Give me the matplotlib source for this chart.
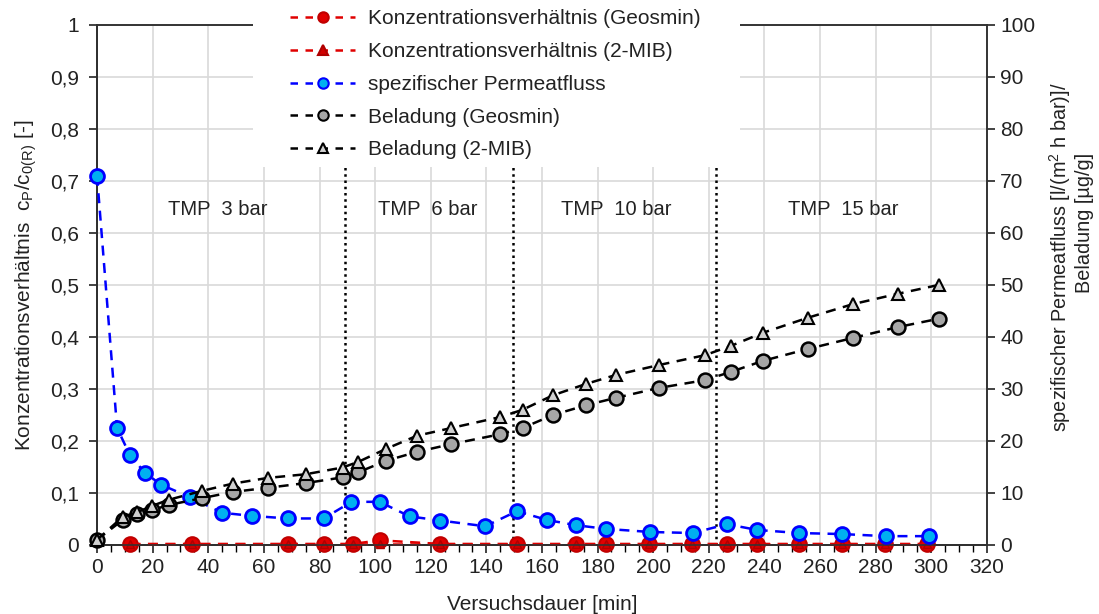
import matplotlib
matplotlib.use("Agg")
import matplotlib.pyplot as plt
from matplotlib.ticker import MultipleLocator, FuncFormatter
from matplotlib.lines import Line2D
from matplotlib.patches import Rectangle

plt.rcParams['font.family'] = ['Liberation Sans', 'DejaVu Sans']
plt.rcParams['font.size'] = 12

# Konzentrationsverhältnis (left axis)
conc_x = [12, 34, 68.6, 81.5, 92, 101.6, 123.5, 151, 172.3, 183, 198.5, 214, 226.5, 237.3, 252.3, 268, 283.2, 298.6]
conc_geosmin = [0.002, 0.002, 0.002, 0.002, 0.002, 0.009, 0.002, 0.002, 0.002, 0.002, 0.002, 0.002, 0.002, 0.002, 0.002, 0.002, 0.002, 0.002]
conc_mib = [0.001, 0.001, 0.001, 0.001, 0.001, 0.001, 0.001, 0.001, 0.001, 0.001, 0.001, 0.001, 0.001, 0.001, 0.001, 0.001, 0.001, 0.001]

# spezifischer Permeatfluss (right axis)
flux_x = [0, 7.2, 11.8, 17.2, 23, 33.4, 44.9, 55.6, 68.6, 81.5, 91.5, 101.6, 112.4, 123.5, 139.6,
          151, 161.9, 172.3, 183, 198.9, 214.3, 226.5, 237.3, 252.3, 268, 283.6, 299]
flux = [71, 22.5, 17.3, 13.9, 11.6, 9.2, 6.2, 5.6, 5.1, 5.1, 8.3, 8.3, 5.5, 4.7, 3.6,
        6.5, 4.8, 3.8, 3.1, 2.5, 2.3, 4.0, 2.9, 2.3, 2.1, 1.7, 1.7]

# Beladung (right axis)
load_x = [0, 9.2, 14.4, 19.7, 25.8, 37.7, 48.8, 61.4, 75, 88.3, 94, 104, 115, 127.4, 145, 153,
          164, 176, 186.6, 202, 218.6, 228, 239.4, 255.6, 271.7, 287.9, 302.6]
load_geosmin = [1, 4.8, 6, 6.7, 7.7, 9, 10.2, 11, 11.9, 13, 14, 16.2, 17.9, 19.4, 21.3, 22.5,
                25, 26.9, 28.3, 30.2, 31.7, 33.3, 35.4, 37.7, 39.8, 41.9, 43.5]
load_mib = [1, 5.4, 6.3, 7.5, 8.7, 10.4, 11.8, 12.9, 13.6, 14.9, 16, 18.5, 21, 22.5, 24.6, 26,
            28.8, 31, 32.7, 34.6, 36.5, 38.3, 40.8, 43.7, 46.3, 48.3, 50]

tmp_bounds = [89, 149.5, 222.5]
tmp_labels = ["TMP  3 bar", "TMP  6 bar", "TMP  10 bar", "TMP  15 bar"]
tmp_label_x = [43.5, 119, 186.6, 268.5]

W, H = 1099, 614
fig = plt.figure(figsize=(10.99, 6.14), dpi=100)
ax = fig.add_axes([0.0883, 0.1124, 0.8097, 0.8469])
ax2 = ax.twinx()

dash = (0, (4, 3))
lw = 1.8
ms = 10

red_face = '#E00000'
red_edge = '#C00000'
l0, = ax.plot(conc_x, conc_geosmin, linestyle=dash, color=red_face, lw=lw, marker='o', ms=ms + 0.5,
              mfc=red_face, mec=red_edge, mew=1.5, clip_on=False, zorder=3)
l1, = ax.plot(conc_x, conc_mib, linestyle=dash, color=red_face, lw=lw, marker='^', ms=6,
              mfc='#D00000', mec='#B00000', mew=1.0, clip_on=False, zorder=4)

l2, = ax2.plot(flux_x, flux, linestyle=dash, color='#0000FF', lw=lw, marker='o', ms=ms,
               mfc='#00B0F0', mec='#0000FF', mew=2, clip_on=False, zorder=3)
l3, = ax2.plot(load_x, load_geosmin, linestyle=dash, color='black', lw=lw, marker='o', ms=ms,
               mfc='#A6A6A6', mec='black', mew=1.8, clip_on=False, zorder=4)
l4, = ax2.plot(load_x, load_mib, linestyle=dash, color='black', lw=lw, marker='^', ms=ms - 1.5,
               mfc='#D0D0D0', mec='black', mew=1.5, clip_on=False, zorder=4)

for b in tmp_bounds:
    ax.plot([b, b], [0, 1], linestyle=(0, (1, 1.5)), color='black', lw=1.8, zorder=2)
for lx, lab in zip(tmp_label_x, tmp_labels):
    ax.text(lx, 0.646, lab, ha='center', va='center', fontsize=14.5, color='#222222')

ax.set_xlim(0, 320)
ax.set_ylim(0, 1)
ax2.set_ylim(0, 100)

comma = FuncFormatter(lambda v, p: ('%.1f' % v).replace('.', ',') if 0 < v < 1 else '%d' % round(v))
ax.xaxis.set_major_locator(MultipleLocator(20))
ax.xaxis.set_minor_locator(MultipleLocator(5))
ax.yaxis.set_major_locator(MultipleLocator(0.1))
ax.yaxis.set_major_formatter(comma)
ax2.yaxis.set_major_locator(MultipleLocator(10))

ax.grid(True, which='major', color='#D9D9D9', lw=1.2, zorder=0)
ax.set_axisbelow(True)

for a in (ax, ax2):
    for s in a.spines.values():
        s.set_color('#333333')
        s.set_linewidth(1.2)
ax.spines['bottom'].set_color('black')
ax.spines['left'].set_color('black')

ax.tick_params(axis='x', which='major', direction='out', length=6, width=1.2,
               labelsize=15, colors='#222222')
ax.tick_params(axis='y', which='major', direction='out', length=6, width=1.2, pad=7,
               labelsize=15, colors='#222222')
ax.tick_params(axis='x', which='minor', direction='out', length=5, width=1)
ax2.tick_params(axis='y', direction='out', length=6, width=1.2, labelsize=15, colors='#222222')

ax.set_xlabel("Versuchsdauer [min]", fontsize=15, labelpad=13, color='#222222')
ax.set_ylabel("Konzentrationsverhältnis  c$_\\mathregular{P}$/c$_\\mathregular{0(R)}$ [-]",
              fontsize=15, labelpad=8, color='#222222')

# right axis label (two lines, placed like the original)
fig.text(1060 / W, 1 - 257 / H, "spezifischer Permeatfluss [l/(m$^\\mathregular{2}$ h bar)]/",
         rotation=90, ha='center', va='center', fontsize=14.3, color='#222222')
fig.text(1085 / W, 1 - 223 / H, "Beladung [µg/g]",
         rotation=90, ha='center', va='center', fontsize=14.3, color='#222222')

# white legend background area (covers grid / top spine like the original)
fig.patches.append(Rectangle((253 / W, 1 - 167 / H), 487 / W, 167 / H,
                             transform=fig.transFigure, facecolor='white',
                             edgecolor='none', zorder=5))

handles = [l0, l1, l2, l3, l4]
labels = ["Konzentrationsverhältnis (Geosmin)", "Konzentrationsverhältnis (2-MIB)",
          "spezifischer Permeatfluss", "Beladung (Geosmin)", "Beladung (2-MIB)"]
leg_handles = []
for h in handles:
    leg_handles.append(Line2D([], [], linestyle=(0, (3, 3)), color=h.get_color(), lw=lw,
                              marker=h.get_marker(), ms=7.5, mfc=h.get_markerfacecolor(),
                              mec=h.get_markeredgecolor(), mew=1.5))
leg = fig.legend(leg_handles, labels, loc='upper left',
                 bbox_to_anchor=(280 / W, 1 + 1 / H), bbox_transform=fig.transFigure,
                 frameon=False, fontsize=15, handlelength=3.1, labelspacing=0.66,
                 borderpad=0.0, handletextpad=0.62)
leg.set_zorder(6)
for t in leg.get_texts():
    t.set_color('#222222')

fig.savefig("out.png", dpi=100)
